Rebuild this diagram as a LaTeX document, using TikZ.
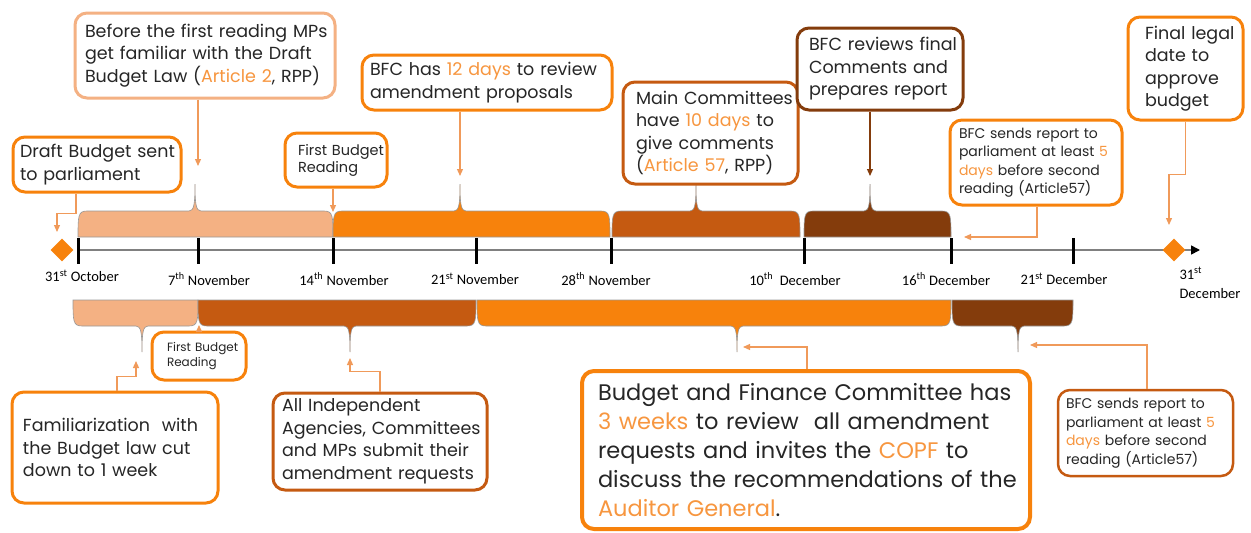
\documentclass[tikz,border=0pt]{standalone}
\usepackage{fontspec}
\setmainfont{Poppins}
\newfontfamily\calfont{Carlito}
\usetikzlibrary{shapes.geometric,arrows.meta,calc}
\definecolor{peach}{HTML}{F4B183}
\definecolor{orng}{HTML}{F7820C}
\definecolor{dorng}{HTML}{C55A11}
\definecolor{brown}{HTML}{843C0C}
\definecolor{hl}{HTML}{F7963F}
\definecolor{txt}{HTML}{262626}
\definecolor{lineor}{HTML}{F09A5A}
\newcommand{\tbrace}[4]{%
\filldraw[fill=#4, brc] (#1,237) .. controls (#1,216) and (#1,211) .. ({#1+9},211) -- ({#3-6},211) .. controls ({#3-1},211) and (#3,204) .. (#3,184) .. controls (#3,204) and ({#3+1},211) .. ({#3+6},211) -- ({#2-9},211) .. controls (#2,211) and (#2,216) .. (#2,237) -- cycle;}
\newcommand{\bbrace}[4]{%
\filldraw[fill=#4, brc] (#1,300) .. controls (#1,321) and (#1,326) .. ({#1+9},326) -- ({#3-6},326) .. controls ({#3-1},326) and (#3,333) .. (#3,352) .. controls (#3,333) and ({#3+1},326) .. ({#3+6},326) -- ({#2-9},326) .. controls (#2,326) and (#2,321) .. (#2,300) -- cycle;}
\newcommand{\ml}[1]{\mbox{#1}}
\tikzset{
  box/.style={draw, line width=3pt, rounded corners=12pt, fill=white, align=left, text=txt, inner ysep=0pt},
  fA/.style={font=\fontsize{17.5}{22.5}\selectfont},
  fB/.style={font=\fontsize{22.5}{29}\selectfont},
  fS/.style={font=\fontsize{14}{18.5}\selectfont},
  fT/.style={font=\fontsize{14.5}{17}\selectfont},
  fU/.style={font=\fontsize{12}{14.5}\selectfont},
  conn/.style={draw=lineor, line width=1.2pt, -{Triangle[length=7pt,width=6pt]}},
  bconn/.style={draw=brown, line width=1.2pt, -{Triangle[length=7pt,width=6pt]}},
  datelab/.style={font=\calfont\fontsize{14.5}{19}\selectfont, text=black},
  tickmark/.style={line width=3pt, black},
  brc/.style={draw=gray!80, line width=0.6pt},
  axisline/.style={draw=gray, line width=1.6pt, -{Triangle[length=9pt,width=9pt,color=black]}},
  dmd/.style={diamond, fill=orng, minimum width=23pt, minimum height=23pt, inner sep=0pt},
}
\begin{document}
\begin{tikzpicture}[x=1pt,y=-1pt]
\useasboundingbox (0,0) rectangle (1251,533);
% axis
\coordinate (ax0) at (78,250);
\coordinate (ax1) at (1200,250);
\draw[axisline] (ax0) -- (ax1);
\foreach \x in {78,198,333,476,611,804,951,1073} \draw[tickmark] (\x,238) -- (\x,264);
\node[dmd] (d1) at (62,250) {};
\node[dmd] (d2) at (1174,250) {};
% braces
\tbrace{78}{333}{195}{peach}
\tbrace{333}{610}{460}{orng}
\tbrace{612}{800}{696}{dorng}
\tbrace{804}{951}{870}{brown}
\bbrace{73}{198}{142}{peach}
\bbrace{198}{476}{350}{dorng}
\bbrace{477}{951}{737}{orng}
\bbrace{952}{1073}{1018}{brown}
% date labels
\node[datelab] (l1) at (82,276) {31\textsuperscript{st} October};
\node[datelab] (l2) at (209,279) {7\textsuperscript{th} November};
\node[datelab] (l3) at (344,279) {14\textsuperscript{th} November};
\node[datelab] (l4) at (475,279) {21\textsuperscript{st} November};
\node[datelab] (l5) at (606,279) {28\textsuperscript{th} November};
\node[datelab] (l6) at (795,279) {10\textsuperscript{th}\ \ December};
\node[datelab] (l7) at (946,279) {16\textsuperscript{th} December};
\node[datelab] (l8) at (1064,279) {21\textsuperscript{st} December};
\node[datelab, align=left, anchor=north west] (l9) at (1176,264) {31\textsuperscript{st}\\December};
% top boxes
\node[box, fA, draw=orng, minimum width=168pt, minimum height=55pt, text width=154pt, inner xsep=7pt] (drafts) at (97,164.5) {\ml{Draft Budget sent}\\\ml{to parliament}};
\node[box, fA, draw=peach, minimum width=260pt, minimum height=85pt, text width=240pt, inner xsep=10pt] (before) at (205,55.5) {\ml{Before the first reading MPs}\\\ml{get familiar with the Draft}\\\ml{Budget Law (\textcolor{hl}{Article 2}, RPP)}};
\node[box, fT, draw=orng, minimum width=102pt, minimum height=54pt, text width=76pt, inner xsep=13pt] (fbr1) at (336,160) {\ml{First Budget}\\\ml{Reading}};
\node[box, fA, draw=orng, minimum width=250pt, minimum height=55pt, text width=234pt, inner xsep=8pt] (bfc12) at (487,82.5) {\ml{BFC has \textcolor{hl}{12 days} to review}\\\ml{amendment proposals}};
\node[box, fA, draw=dorng, minimum width=175pt, minimum height=102pt, text width=149pt, inner xsep=13pt] (mainc) at (710.5,133) {\ml{Main Committees}\\\ml{have \textcolor{hl}{10 days} to}\\\ml{give comments}\\\ml{(\textcolor{hl}{Article 57}, RPP)}};
\node[box, fA, draw=brown, minimum width=166pt, minimum height=82pt, text width=142pt, inner xsep=12pt] (bfcrev) at (880,69) {\ml{BFC reviews final}\\\ml{Comments and}\\\ml{prepares report}};
\node[box, fS, draw=orng, minimum width=172pt, minimum height=85pt, text width=154pt, inner xsep=9pt] (send1) at (1036,162.5) {\ml{BFC sends report to}\\\ml{parliament at least \textcolor{hl}{5}}\\\ml{\textcolor{hl}{days} before second}\\\ml{reading (Article57)}};
\node[box, fA, draw=orng, minimum width=115pt, minimum height=103pt, text width=81pt, inner xsep=17pt] (final) at (1185.5,68.5) {\ml{Final legal}\\\ml{date to}\\\ml{approve}\\\ml{budget}};
% bottom boxes
\node[box, fU, draw=orng, minimum width=94pt, minimum height=48pt, text width=64pt, inner xsep=15pt] (fbr2) at (199,356) {\ml{First Budget}\\\ml{Reading}};
\node[box, fA, draw=orng, minimum width=206pt, minimum height=111pt, text width=184pt, inner xsep=11pt] (famil) at (115,447.5) {\ml{Familiarization\ \ with}\\\ml{the Budget law cut}\\\ml{down to 1 week}};
\node[box, fA, draw=dorng, minimum width=214pt, minimum height=97pt, text width=196pt, inner xsep=9pt] (allind) at (380,441.5) {\ml{All Independent}\\\ml{Agencies, Committees}\\\ml{and MPs submit their}\\\ml{amendment requests}};
\node[box, fB, draw=orng, line width=4pt, minimum width=448pt, minimum height=158pt, text width=416pt, inner xsep=16pt] (bfc3w) at (806,450) {\ml{Budget and Finance Committee has}\\\ml{\textcolor{hl}{3 weeks} to review\ \ all amendment}\\\ml{requests and invites the \textcolor{hl}{COPF} to}\\\ml{discuss the recommendations of the}\\\ml{\textcolor{hl}{Auditor General}.}};
\node[box, fS, draw=dorng, line width=2.5pt, minimum width=175pt, minimum height=86pt, text width=159pt, inner xsep=8pt] (send2) at (1145.5,433) {\ml{BFC sends report to}\\\ml{parliament at least \textcolor{hl}{5}}\\\ml{\textcolor{hl}{days} before second}\\\ml{reading (Article57)}};
% connector targets
\coordinate (t1) at (57,232);
\coordinate (t2) at (198,166);
\coordinate (t3) at (333,212);
\coordinate (t4) at (460,176);
\coordinate (t6) at (870,176);
\coordinate (t7) at (964,237);
\coordinate (t8) at (1169,225);
\coordinate (t9) at (199,325);
\coordinate (t10) at (136,361);
\coordinate (t11) at (350,358);
\coordinate (t12) at (743,347);
\coordinate (t13) at (1030,345);
% connectors
\draw[conn] ([xshift=-21pt]drafts.south) -- ++(0,20) -| (t1);
\draw[conn] ([xshift=-7pt]before.south) -- (t2);
\draw[conn] ([xshift=-3pt]fbr1.south) -- (t3);
\draw[conn] ([xshift=-27pt]bfc12.south) -- (t4);
\draw[bconn] ([xshift=-10pt]bfcrev.south) -- (t6);
\draw[conn] ([xshift=1pt]send1.south) |- (t7);
\draw[conn] (final.south) -- ++(0,53) -| (t8);
\draw[conn] (fbr2.north) -- (t9);
\draw[conn] ([xshift=2pt]famil.north) -- ++(0,-14) -| (t10);
\draw[conn] (allind.north) -- ++(0,-20) -| (t11);
\draw[conn] ([xshift=1pt]bfc3w.north) |- (t12);
\draw[conn] ([xshift=1.5pt]send2.north) |- (t13);
\end{tikzpicture}
\end{document}
